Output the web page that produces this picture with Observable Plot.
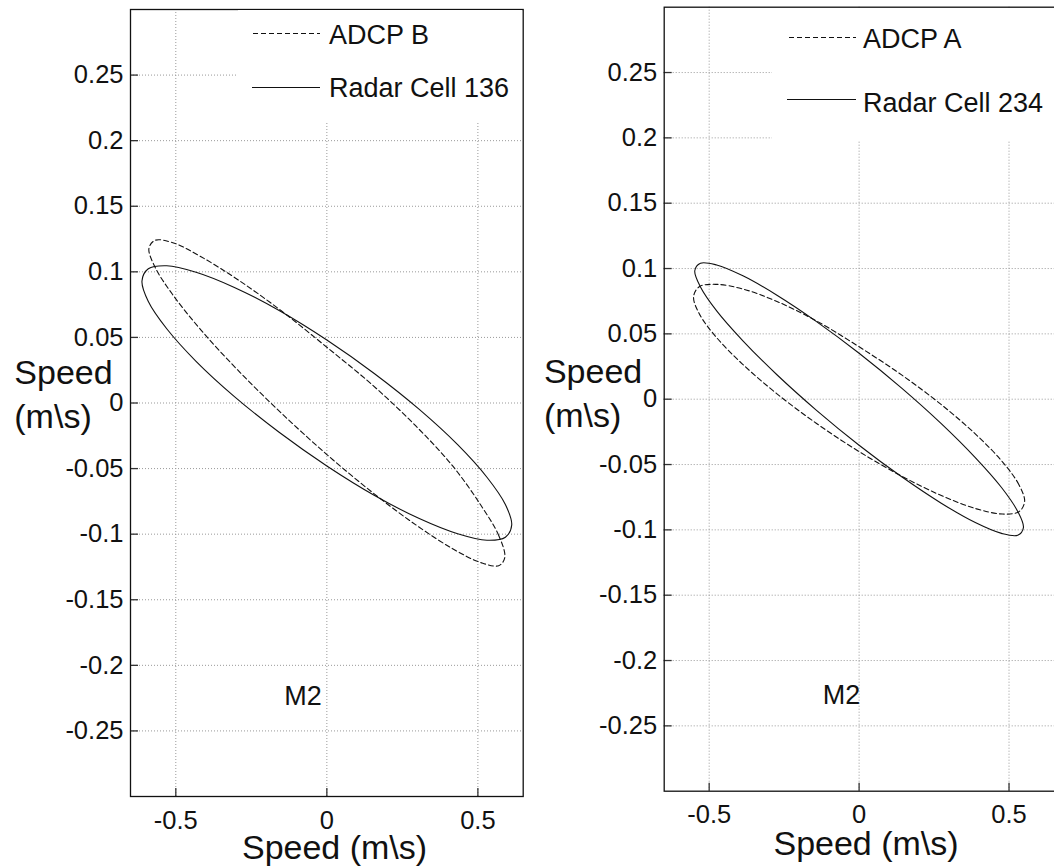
<!DOCTYPE html>
<html>
<head>
<meta charset="utf-8">
<script src="https://cdn.jsdelivr.net/npm/d3@7"></script>
<script src="https://cdn.jsdelivr.net/npm/@observablehq/plot@0.6"></script>
<style>
  html, body { margin: 0; padding: 0; background: #fff; overflow: hidden; }
  #wrap { position: relative; width: 1054px; height: 866px; overflow: hidden; background: #fff;
          font-family: "Liberation Sans", Arial, sans-serif; color: #111; }
  .panel { position: absolute; top: 0; }
  .panel svg { max-width: none !important; }
  .legend { position: absolute; background: #fff; }
</style>
</head>
<body>
<div id="wrap"></div>
<script>
// ---------- data ----------
const xTicks = [-0.5, 0, 0.5];
const yTicks = [-0.25, -0.2, -0.15, -0.1, -0.05, 0, 0.05, 0.1, 0.15, 0.2, 0.25];

// Left panel: ADCP B (dashed) and Radar Cell 136 (solid), points read around each ellipse
const adcpB = [
  [0.589, -0.1179], [0.569, -0.1010], [0.510, -0.0780], [0.4165, -0.0480], [0.2945, -0.0175],
  [0.152, 0.0135], [0, 0.0425], [-0.152, 0.0705], [-0.2945, 0.0940], [-0.4165, 0.1115],
  [-0.510, 0.1222], [-0.569, 0.1240], [-0.589, 0.1179], [-0.569, 0.1037], [-0.510, 0.0825],
  [-0.4165, 0.0556], [-0.2945, 0.0250], [-0.152, -0.0074], [0, -0.0393], [0.152, -0.0684],
  [0.2945, -0.0929], [0.4165, -0.1111], [0.510, -0.1217], [0.569, -0.1240]
];
const radar136 = [
  [0.612, -0.0930], [0.591, -0.0774], [0.530, -0.0566], [0.433, -0.0318], [0.306, -0.0049],
  [0.158, 0.0223], [0, 0.0480], [-0.158, 0.0705], [-0.306, 0.0881], [-0.433, 0.0997],
  [-0.530, 0.1046], [-0.591, 0.1023], [-0.612, 0.0930], [-0.591, 0.0774], [-0.530, 0.0566],
  [-0.433, 0.0318], [-0.306, 0.0049], [-0.158, -0.0223], [0, -0.0480], [0.158, -0.0705],
  [0.306, -0.0881], [0.433, -0.0997], [0.530, -0.1046], [0.591, -0.1023]
];

// Right panel: ADCP A (dashed) and Radar Cell 234 (solid)
const adcpA = [
  [0.552, -0.0784], [0.533, -0.0654], [0.478, -0.0479], [0.390, -0.0271], [0.276, -0.0045],
  [0.143, 0.0184], [0, 0.0401], [-0.143, 0.0600], [-0.276, 0.0750], [-0.390, 0.0845],
  [-0.478, 0.0879], [-0.533, 0.0861], [-0.552, 0.0784], [-0.533, 0.0654], [-0.478, 0.0479],
  [-0.390, 0.0271], [-0.276, 0.0045], [-0.143, -0.0184], [0, -0.0401], [0.143, -0.0590],
  [0.276, -0.0739], [0.390, -0.0838], [0.478, -0.0879], [0.533, -0.0861]
];
const radar234 = [
  [0.548, -0.0983], [0.529, -0.0859], [0.475, -0.0676], [0.3875, -0.0447], [0.274, -0.0187],
  [0.142, 0.0085], [0, 0.0352], [-0.142, 0.0594], [-0.274, 0.0796], [-0.3875, 0.0944],
  [-0.475, 0.1027], [-0.529, 0.1041], [-0.548, 0.0983], [-0.529, 0.0859], [-0.475, 0.0676],
  [-0.3875, 0.0447], [-0.274, 0.0187], [-0.142, -0.0085], [0, -0.0352], [0.142, -0.0594],
  [0.274, -0.0796], [0.3875, -0.0944], [0.475, -0.1027], [0.529, -0.1041]
];

const panels = [
  {left: 0, width: 540, ml: 130, mr: 17.3, mt: 9, mb: 70, xDomain: [-0.65, 0.65],
   series: [{name: "ADCP B", pts: adcpB, dash: "5,3"}, {name: "Radar Cell 136", pts: radar136, dash: null}],
   note: {x: -0.141, y: -0.2238, text: "M2"},
   xTitle: {dx: 7.7, dy: 51.8}, yTitle: {dx: -116.2, dy: -11},
   legend: {left: 238, top: 10, width: 284, height: 112}},
  {left: 540, width: 540, ml: 123.7, mr: 25, mt: 6.7, mb: 75.3, xDomain: [-0.65, 0.655],
   series: [{name: "ADCP A", pts: adcpA, dash: "5,3"}, {name: "Radar Cell 234", pts: radar234, dash: null}],
   note: {x: -0.121, y: -0.2269, text: "M2"},
   xTitle: {dx: 6.2, dy: 53.4}, yTitle: {dx: -120.3, dy: -8},
   legend: {left: 772, top: 8, width: 290, height: 133}}
];

const FONT = '"Liberation Sans", Arial, Helvetica, sans-serif';
const wrap = document.getElementById("wrap");

panels.forEach((p) => {
  const innerW = p.width - p.ml - p.mr;
  const innerH = 866 - p.mt - p.mb;
  const marks = [
    // dotted grid
    Plot.gridX(xTicks, {stroke: "#999", strokeOpacity: 1, strokeDasharray: "1,2"}),
    Plot.gridY(yTicks, {stroke: "#999", strokeOpacity: 1, strokeDasharray: "1,2"}),
    // ellipses
    ...p.series.map(s => Plot.line(s.pts, {
      x: d => d[0], y: d => d[1], curve: "catmull-rom-closed",
      stroke: "#111", strokeWidth: 1.1, strokeDasharray: s.dash
    })),
    // inward ticks on left and bottom
    Plot.tickX(xTicks, {x: d => d, frameAnchor: "bottom", insetTop: innerH - 8, stroke: "#333", strokeWidth: 1.3}),
    Plot.tickY(yTicks, {y: d => d, frameAnchor: "left", insetRight: innerW - 8, stroke: "#333", strokeWidth: 1.3}),
    Plot.frame({stroke: "#111", strokeWidth: 1.3}),
    Plot.axisX(xTicks, {tickSize: 0, tickPadding: 14, tickFormat: d => String(d), fontSize: 25.5, label: null}),
    Plot.axisY(yTicks, {tickSize: 0, tickPadding: 7, tickFormat: d => String(d), fontSize: 25.5, label: null}),
    // annotation
    Plot.text([p.note], {x: "x", y: "y", text: "text", textAnchor: "start", lineAnchor: "middle", fontSize: 27, fill: "#111"}),
    // axis titles
    Plot.text(["Speed (m\\s)"], {frameAnchor: "bottom", lineAnchor: "middle", dx: p.xTitle.dx, dy: p.xTitle.dy, fontSize: 34, fill: "#111"}),
    Plot.text(["Speed\n(m\\s)"], {frameAnchor: "left", textAnchor: "start", lineAnchor: "middle",
      dx: p.yTitle.dx, dy: p.yTitle.dy, lineHeight: 1.3, fontSize: 34, fill: "#111"})
  ];
  const chart = Plot.plot({
    width: p.width, height: 866,
    marginLeft: p.ml, marginRight: p.mr, marginTop: p.mt, marginBottom: p.mb,
    x: {domain: p.xDomain, axis: null},
    y: {domain: [-0.3, 0.3], axis: null},
    style: {fontFamily: FONT, background: "transparent", color: "#111", overflow: "visible", maxWidth: "none"},
    marks
  });
  const holder = document.createElement("div");
  holder.className = "panel";
  holder.style.left = p.left + "px";
  holder.style.width = p.width + "px";
  holder.style.height = "866px";
  holder.appendChild(chart);
  wrap.appendChild(holder);

  // legend box (white background, hides the grid beneath it)
  const lg = document.createElement("div");
  lg.className = "legend";
  Object.assign(lg.style, {left: p.legend.left + "px", top: p.legend.top + "px",
                           width: p.legend.width + "px", height: p.legend.height + "px"});
  wrap.appendChild(lg);
});

// legend entries (page pixels)
const legendEntries = [
  {x1: 253, x2: 320, y: 33, tx: 329, ty: 24, label: "ADCP B", dash: "5,3"},
  {x1: 252, x2: 320, y: 87, tx: 329, ty: 77, label: "Radar Cell 136", dash: null},
  {x1: 789, x2: 856, y: 37, tx: 863, ty: 28, label: "ADCP A", dash: "5,3"},
  {x1: 787, x2: 856, y: 99, tx: 863, ty: 92, label: "Radar Cell 234", dash: null}
];
const ns = "http://www.w3.org/2000/svg";
const lsvg = document.createElementNS(ns, "svg");
lsvg.setAttribute("width", 1054); lsvg.setAttribute("height", 866);
Object.assign(lsvg.style, {position: "absolute", left: "0px", top: "0px", pointerEvents: "none"});
legendEntries.forEach(e => {
  const l = document.createElementNS(ns, "line");
  l.setAttribute("x1", e.x1); l.setAttribute("x2", e.x2);
  l.setAttribute("y1", e.y + 0.5); l.setAttribute("y2", e.y + 0.5);
  l.setAttribute("stroke", "#111"); l.setAttribute("stroke-width", 1.1);
  if (e.dash) l.setAttribute("stroke-dasharray", e.dash);
  lsvg.appendChild(l);
  const t = document.createElementNS(ns, "text");
  t.setAttribute("x", e.tx); t.setAttribute("y", e.ty + 19.5);
  t.setAttribute("font-family", FONT); t.setAttribute("font-size", 27);
  t.setAttribute("fill", "#111");
  t.textContent = e.label;
  lsvg.appendChild(t);
});
wrap.appendChild(lsvg);
</script>
</body>
</html>
